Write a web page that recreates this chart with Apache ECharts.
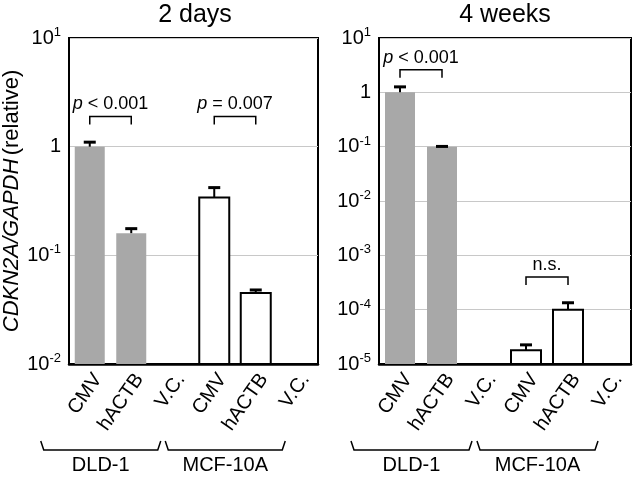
<!DOCTYPE html>
<html>
<head>
<meta charset="utf-8">
<script src="https://cdn.jsdelivr.net/npm/echarts@6/dist/echarts.min.js"></script>
<style>
  html, body { margin: 0; padding: 0; background: #fff; }
  #chart { width: 636px; height: 477px; }
</style>
</head>
<body>
<div id="chart"></div>
<script>
// categories (same for both panels)
const categories = ['CMV', 'hACTB', 'V.C.', 'CMV', 'hACTB', 'V.C.'];
const groupNames = ['DLD-1', 'MCF-10A'];
const groupRanges = [[0, 2], [3, 5]];

// 2 days: mean and top of error bar (null = V.C., nothing drawn)
const days2Values = [1.0, 0.16, null, 0.34, 0.045, null];
const days2ErrTop = [1.1, 0.176, null, 0.42, 0.048, null];
// 4 weeks
const weeks4Values = [1.0, 0.1, null, 1.8e-5, 1.0e-4, null];
const weeks4ErrTop = [1.26, 0.101, null, 2.25e-5, 1.34e-4, null];

// significance brackets: [from, to, y level]
const days2Brackets = [[0, 1, 1.9], [3, 4, 1.9]];
const days2BracketText = ['{i|p} < 0.001', '{i|p} = 0.007'];
const weeks4Brackets = [[0, 1, 2.6], [3, 4, 4.0e-4]];
const weeks4BracketText = ['{i|p} < 0.001', 'n.s.'];

// tick labels by decade exponent
const tickLabels = {
  '-5': '{b|10}{s|-5}', '-4': '{b|10}{s|-4}', '-3': '{b|10}{s|-3}',
  '-2': '{b|10}{s|-2}', '-1': '{b|10}{s|-1}', '0': '{b|1}', '1': '{b|10}{s|1}'
};

const FONT = 'Liberation Sans, Arial, sans-serif';
const GRAY = '#a8a8a8';

function pairs(values, tops) {
  const out = [];
  values.forEach(function (v, i) {
    if (v != null) out.push([i, v, tops[i]]);
  });
  return out;
}

// bars drawn from the bottom of the log axis up to the value
function renderBar(params, api) {
  const cs = params.coordSys;
  const i = api.value(0);
  const top = api.coord([i, api.value(1)]);
  const bottom = cs.y + cs.height;
  const w = 30;
  const gray = i < 3;
  return {
    type: 'rect',
    shape: { x: top[0] - w / 2, y: top[1], width: w, height: bottom - top[1] },
    style: gray ? { fill: GRAY, stroke: null } : { fill: '#fff', stroke: '#000', lineWidth: 2 }
  };
}

function renderErr(params, api) {
  const p0 = api.coord([api.value(0), api.value(1)]);
  const p1 = api.coord([api.value(0), api.value(2)]);
  return {
    type: 'group',
    children: [
      { type: 'line', shape: { x1: p0[0], y1: p0[1], x2: p1[0], y2: p1[1] }, style: { stroke: '#000', lineWidth: 2 } },
      { type: 'line', shape: { x1: p1[0] - 6, y1: p1[1], x2: p1[0] + 6, y2: p1[1] }, style: { stroke: '#000', lineWidth: 3 } }
    ]
  };
}

function bracketRenderer(texts) {
  return function (params, api) {
    const a = api.coord([api.value(0), api.value(2)]);
    const b = api.coord([api.value(1), api.value(2)]);
    const y = a[1];
    return {
      type: 'group',
      children: [
        { type: 'polyline', shape: { points: [[a[0], y + 8], [a[0], y], [b[0], y], [b[0], y + 8]] },
          style: { stroke: '#000', lineWidth: 1.5, fill: null } },
        { type: 'text', style: {
            text: texts[params.dataIndex], x: (a[0] + b[0]) / 2, y: y - 12,
            align: 'center', verticalAlign: 'middle',
            fontSize: 18, fontFamily: FONT, fill: '#000',
            rich: { i: { fontStyle: 'italic', fontSize: 18, fontFamily: FONT } }
          } }
      ]
    };
  };
}

function renderGroup(params, api) {
  const cs = params.coordSys;
  const x1 = api.coord([api.value(0), 1])[0] - 46;
  const x2 = api.coord([api.value(1), 1])[0] - 15;
  const yb = cs.y + cs.height + 86;
  return {
    type: 'group',
    children: [
      { type: 'polyline', shape: { points: [[x1 - 3, yb - 9], [x1, yb], [x2, yb], [x2 + 3, yb - 9]] },
        style: { stroke: '#000', lineWidth: 1.5, fill: null } },
      { type: 'text', style: {
          text: groupNames[params.dataIndex], x: (x1 + x2) / 2, y: yb + 15,
          align: 'center', verticalAlign: 'middle', fontSize: 20, fontFamily: FONT, fill: '#000'
        } }
    ]
  };
}

function xAxisFor(gi) {
  return {
    type: 'category', gridIndex: gi, data: categories,
    axisTick: { show: false },
    axisLine: { lineStyle: { color: '#000', width: 2.5 } },
    axisLabel: { rotate: 55, margin: 6, fontSize: 20, fontFamily: FONT, color: '#000',
      interval: 0, verticalAlign: 'top' }
  };
}

function yAxisFor(gi, min) {
  return {
    type: 'log', logBase: 10, gridIndex: gi, min: min, max: 10, interval: 1,
    axisLine: { show: true, lineStyle: { color: '#000', width: 2 } },
    axisTick: { show: false },
    splitLine: { show: true, lineStyle: { color: '#c8c8c8', width: 1 } },
    axisLabel: {
      margin: 8, color: '#000',
      formatter: function (v) { return tickLabels[String(Math.round(Math.log10(v)))] || ''; },
      rich: {
        b: { fontSize: 20, fontFamily: FONT, color: '#000', lineHeight: 24 },
        s: { fontSize: 13, fontFamily: FONT, color: '#000', lineHeight: 24, verticalAlign: 'top' }
      }
    }
  };
}

const chart = echarts.init(document.getElementById('chart'), null, { renderer: 'canvas' });
const yLeft = yAxisFor(0, 0.01);
yLeft.name = '{i|CDKN2A/GAPDH} {n|(relative)}';
yLeft.nameLocation = 'middle';
yLeft.nameGap = 46;
yLeft.nameTextStyle = {
  rich: {
    i: { fontStyle: 'italic', fontSize: 22, fontFamily: FONT, color: '#000' },
    n: { fontSize: 22, fontFamily: FONT, color: '#000' }
  }
};

chart.setOption({
  animation: false,
  backgroundColor: '#fff',
  title: [
    { text: '2 days', left: 195, top: 3, textAlign: 'center', padding: 0,
      textStyle: { fontSize: 25, fontWeight: 'normal', fontFamily: FONT, color: '#000' } },
    { text: '4 weeks', left: 505, top: 3, textAlign: 'center', padding: 0,
      textStyle: { fontSize: 25, fontWeight: 'normal', fontFamily: FONT, color: '#000' } }
  ],
  grid: [
    { left: 69, top: 38, width: 249, height: 326, show: true, borderColor: '#000', borderWidth: 2 },
    { left: 379, top: 38, width: 252, height: 326, show: true, borderColor: '#000', borderWidth: 2 }
  ],
  xAxis: [xAxisFor(0), xAxisFor(1)],
  yAxis: [yLeft, yAxisFor(1, 1e-5)],
  series: [
    { type: 'custom', xAxisIndex: 0, yAxisIndex: 0, renderItem: renderBar, encode: { x: 0, y: 1 },
      data: pairs(days2Values, days2ErrTop), z: 2 },
    { type: 'custom', xAxisIndex: 1, yAxisIndex: 1, renderItem: renderBar, encode: { x: 0, y: 1 },
      data: pairs(weeks4Values, weeks4ErrTop), z: 2 },
    { type: 'custom', xAxisIndex: 0, yAxisIndex: 0, renderItem: renderErr, encode: { x: 0, y: [1, 2] },
      data: pairs(days2Values, days2ErrTop), z: 3 },
    { type: 'custom', xAxisIndex: 1, yAxisIndex: 1, renderItem: renderErr, encode: { x: 0, y: [1, 2] },
      data: pairs(weeks4Values, weeks4ErrTop), z: 3 },
    { type: 'custom', xAxisIndex: 0, yAxisIndex: 0, renderItem: bracketRenderer(days2BracketText),
      encode: { x: [0, 1], y: 2 }, data: days2Brackets, clip: false, z: 4 },
    { type: 'custom', xAxisIndex: 1, yAxisIndex: 1, renderItem: bracketRenderer(weeks4BracketText),
      encode: { x: [0, 1], y: 2 }, data: weeks4Brackets, clip: false, z: 4 },
    { type: 'custom', xAxisIndex: 0, yAxisIndex: 0, renderItem: renderGroup,
      encode: { x: [0, 1] }, data: groupRanges, clip: false },
    { type: 'custom', xAxisIndex: 1, yAxisIndex: 1, renderItem: renderGroup,
      encode: { x: [0, 1] }, data: groupRanges, clip: false }
  ]
});
</script>
</body>
</html>
